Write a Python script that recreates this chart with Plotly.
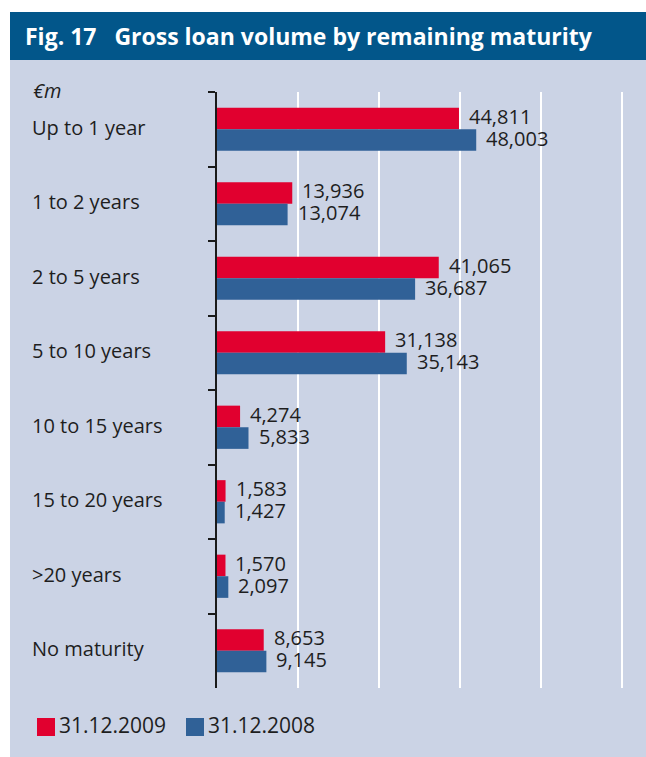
import plotly.graph_objects as go

# ---- data ----
categories = ["Up to 1 year", "1 to 2 years", "2 to 5 years", "5 to 10 years",
              "10 to 15 years", "15 to 20 years", ">20 years", "No maturity"]
series_names = ["31.12.2009", "31.12.2008"]
values_2009 = [44811, 13936, 41065, 31138, 4274, 1583, 1570, 8653]
values_2008 = [48003, 13074, 36687, 35143, 5833, 1427, 2097, 9145]
x_ticks = [0, 15000, 30000, 45000, 60000, 75000]
title_text = "Fig. 17   Gross loan volume by remaining maturity"
unit_text = "€m"

# ---- layout geometry (pixels) ----
FW, FH = 646, 757
L, R, T, B = 217, 20, 92, 69
W = FW - L - R
H = FH - T - B
X_MAX = 75740

def px(x):
    return (x - L) / W

def py(y):
    return 1 - (y - T) / H

RED = "#E1002F"
BLUE = "#306197"
PANEL = "#CBD3E5"
TITLEBAR = "#02568A"
FONT = "Open Sans"
TXT = "#1E1E1E"

fig = go.Figure()
for name, vals, col in [(series_names[0], values_2009, RED),
                        (series_names[1], values_2008, BLUE)]:
    fig.add_trace(go.Bar(
        y=categories, x=vals, name=name, orientation="h",
        marker=dict(color=col, line=dict(width=0)),
        hoverinfo="skip",
    ))

shapes = [
    # panel background
    dict(type="rect", xref="paper", yref="paper", x0=px(10), x1=px(FW + 5),
         y0=py(60), y1=py(FH + 5), fillcolor=PANEL, line=dict(width=0), layer="below"),
    # title bar
    dict(type="rect", xref="paper", yref="paper", x0=px(10), x1=px(FW + 5),
         y0=py(60), y1=py(12), fillcolor=TITLEBAR, line=dict(width=0), layer="below"),
]

annotations = [
    dict(text=f"<b>{title_text}</b>", xref="paper", yref="paper", x=px(23), y=py(36),
         xanchor="left", yanchor="middle", showarrow=False,
         font=dict(family=FONT, size=23, color="white")),
    dict(text=f"<i>{unit_text}</i>", xref="paper", yref="paper", x=px(31), y=py(91),
         xanchor="left", yanchor="middle", showarrow=False,
         font=dict(family=FONT, size=20, color=TXT)),
]
for c in categories:
    annotations.append(dict(text=c, xref="paper", yref="y", x=px(30), y=c,
                            xanchor="left", yanchor="middle", showarrow=False, yshift=2,
                            font=dict(family=FONT, size=20, color=TXT)))

# value labels placed just right of each bar end
for vals, ysh in [(values_2009, 13), (values_2008, -9)]:
    for c, v in zip(categories, vals):
        annotations.append(dict(text=f"{v:,}", xref="x", yref="y", x=v, y=c,
                                xanchor="left", yanchor="middle", showarrow=False,
                                xshift=8, yshift=ysh,
                                font=dict(family=FONT, size=20, color=TXT)))

# custom legend (squares + text)
leg_items = [(series_names[0], RED, 37), (series_names[1], BLUE, 186)]
for name, col, lx in leg_items:
    shapes.append(dict(type="rect", xref="paper", yref="paper", x0=px(lx), x1=px(lx + 18),
                       y0=py(736), y1=py(718), fillcolor=col, line=dict(width=0)))
    annotations.append(dict(text=name, xref="paper", yref="paper", x=px(lx + 20), y=py(725),
                            xanchor="left", yanchor="middle", showarrow=False,
                            font=dict(family=FONT, size=21, color=TXT)))

fig.update_layout(
    width=FW, height=FH,
    margin=dict(l=L, r=R, t=T, b=B, pad=0),
    paper_bgcolor="white", plot_bgcolor="rgba(0,0,0,0)",
    barmode="group", bargap=0.42, bargroupgap=0,
    showlegend=False,
    shapes=shapes, annotations=annotations,
    font=dict(family=FONT),
)
fig.update_xaxes(range=[0, X_MAX], tickvals=x_ticks, showticklabels=False,
                 showgrid=True, gridcolor="white", gridwidth=2,
                 zeroline=False, showline=False, ticks="", fixedrange=True)
fig.update_yaxes(autorange="reversed", showticklabels=False, showgrid=False,
                 showline=True, linecolor="#1a1a1a", linewidth=1.5,
                 ticks="outside", tickson="boundaries", ticklen=7,
                 tickcolor="#1a1a1a", tickwidth=1.5, zeroline=False)

fig.write_html("out.html", config={"displayModeBar": False},
               post_script="document.body.style.margin='0';document.body.style.overflow='hidden';")
